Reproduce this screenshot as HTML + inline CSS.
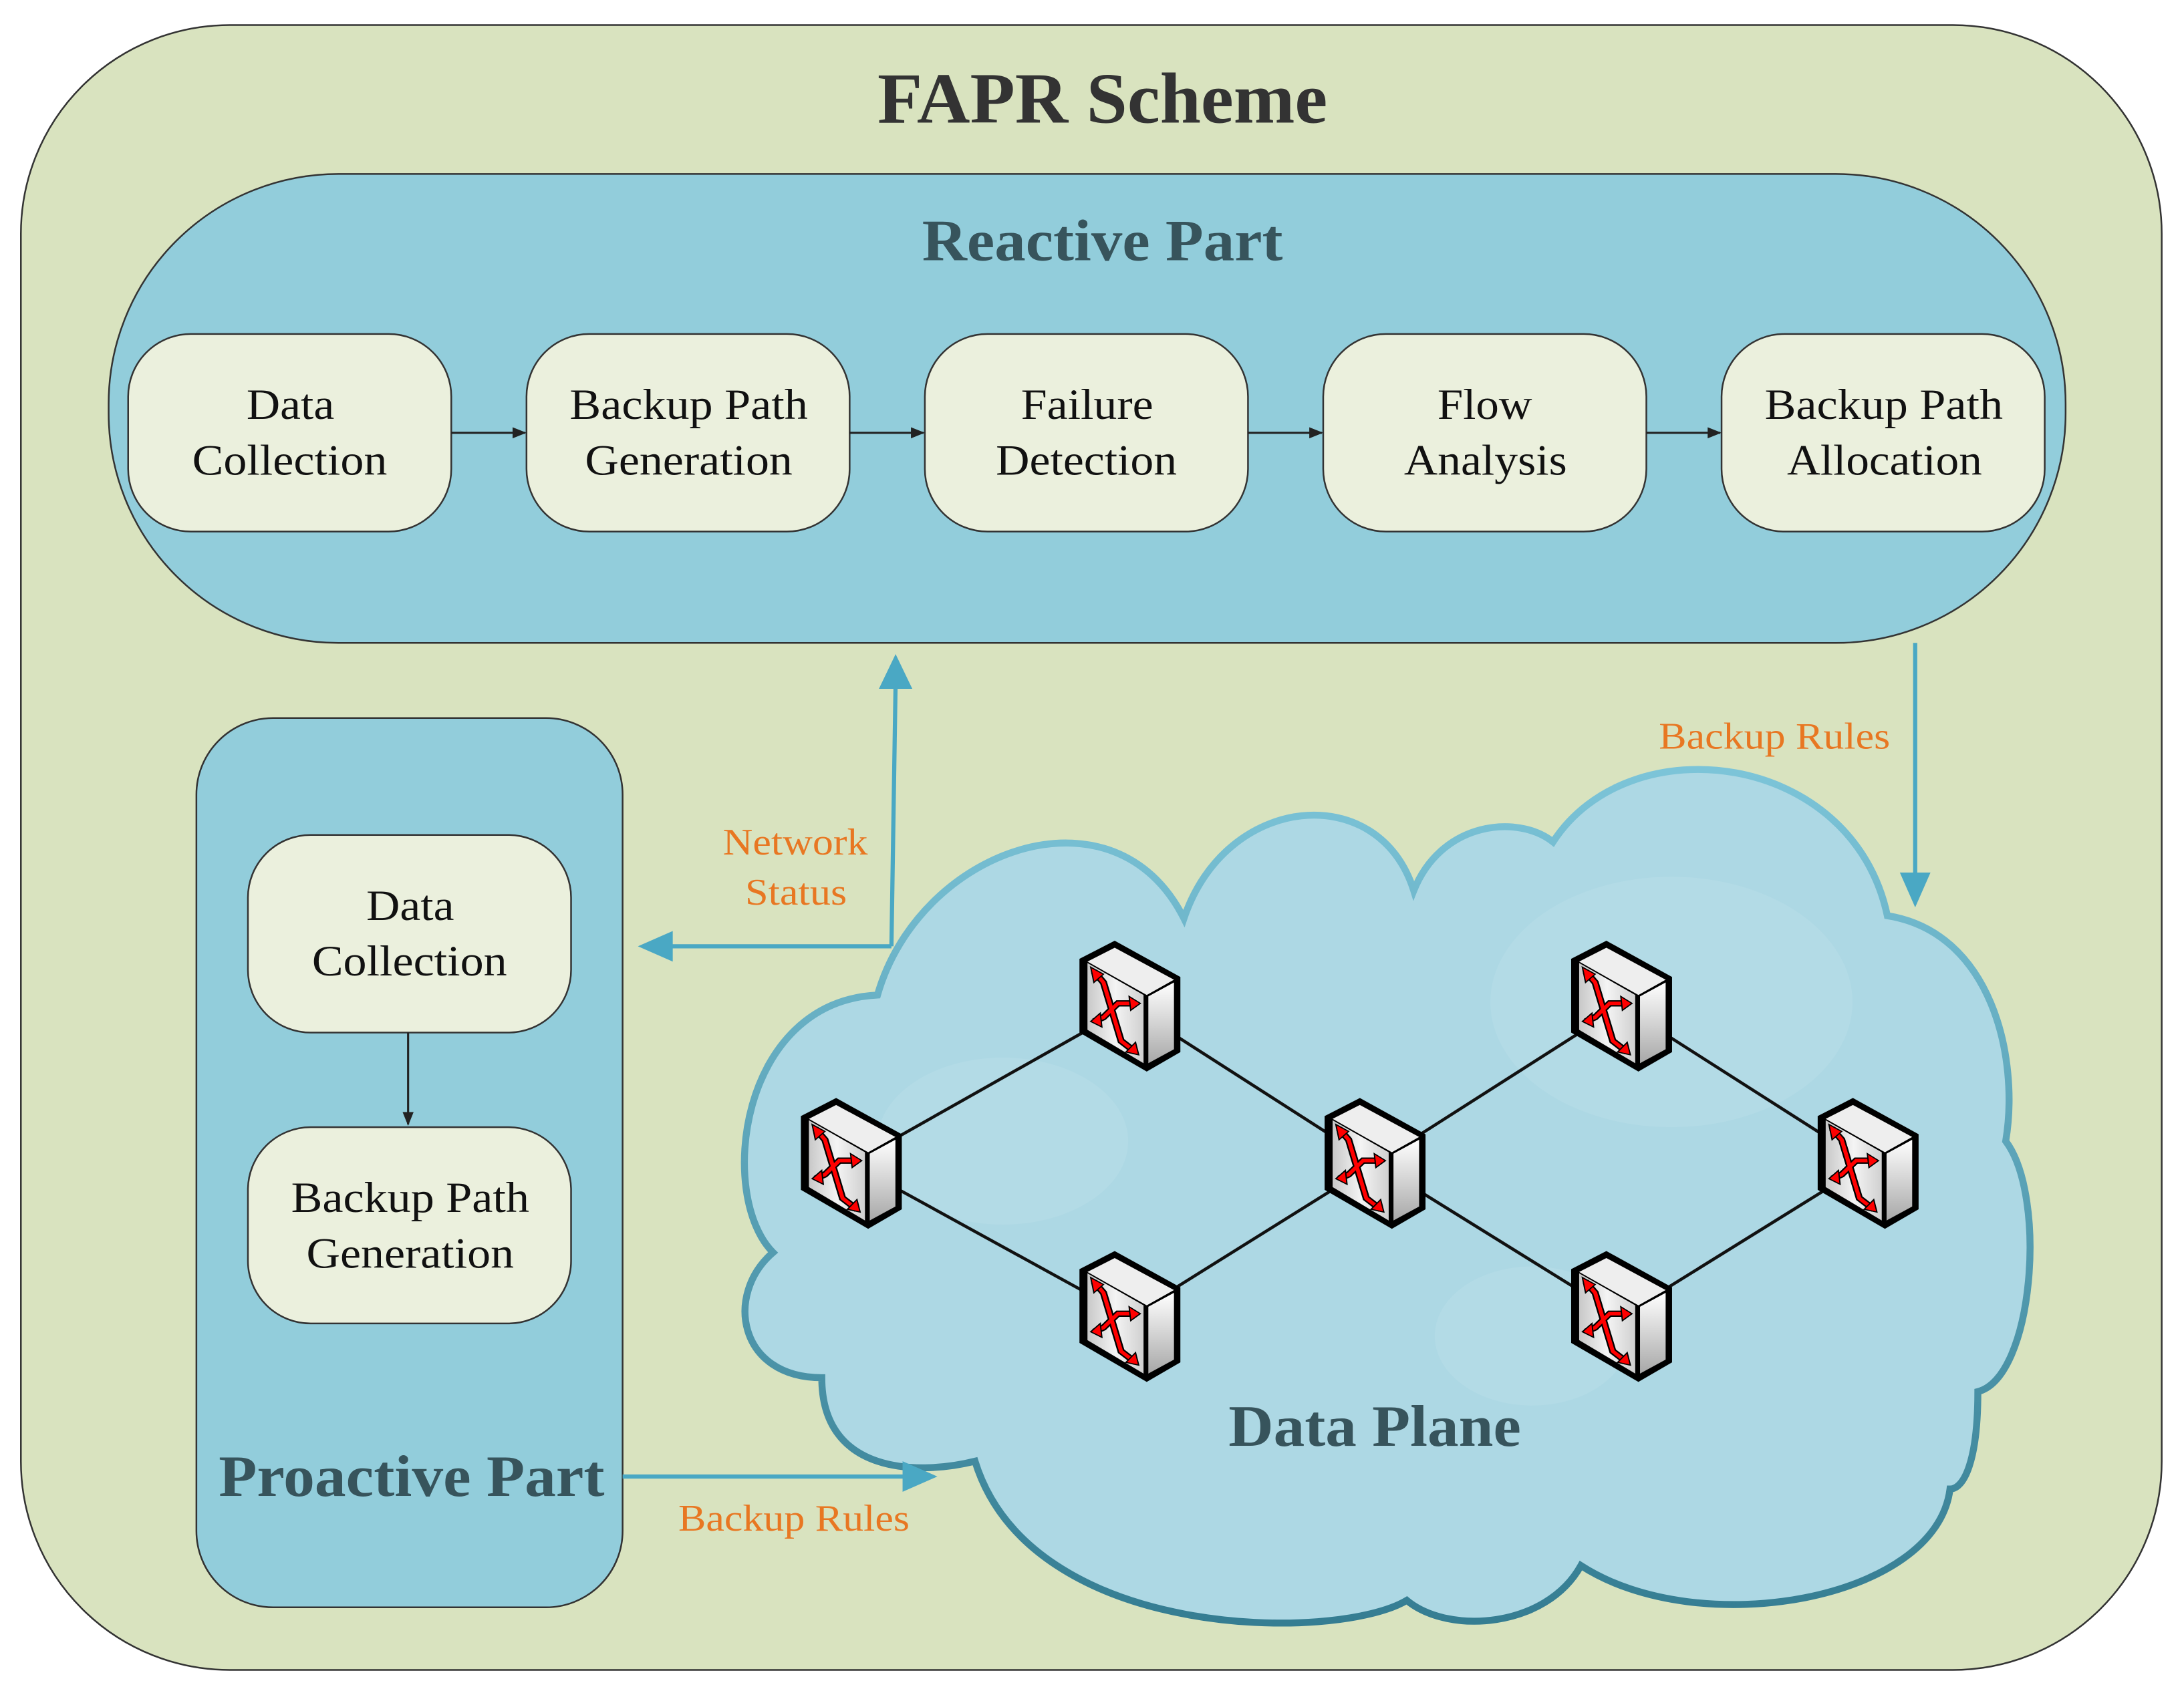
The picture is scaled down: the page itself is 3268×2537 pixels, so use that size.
<!DOCTYPE html>
<html><head><meta charset="utf-8"><style>html,body{margin:0;padding:0;background:#fff}svg{display:block}</style></head>
<body>
<svg width="3268" height="2537" viewBox="0 0 1568 1218" preserveAspectRatio="none" xmlns="http://www.w3.org/2000/svg" font-family="'Liberation Serif', serif">
<defs>
<linearGradient id="cs" x1="0" y1="0" x2="0" y2="1"><stop offset="0" stop-color="#7cc4d8"/><stop offset="1" stop-color="#357d92"/></linearGradient>
<linearGradient id="ff" x1="0" y1="0" x2="1" y2="0"><stop offset="0" stop-color="#c8c8c8"/><stop offset="0.5" stop-color="#f4f4f4"/><stop offset="1" stop-color="#d0d0d0"/></linearGradient>
<linearGradient id="sf" x1="0" y1="0" x2="0" y2="1"><stop offset="0" stop-color="#ffffff"/><stop offset="1" stop-color="#a8a8a8"/></linearGradient>
<marker id="ab" markerWidth="10" markerHeight="10" refX="9" refY="5" orient="auto" markerUnits="userSpaceOnUse"><path d="M0,1 L10,5 L0,9 Z" fill="#222"/></marker>
<g id="sw" transform="scale(1.15,1)">
<polygon points="0,13 22,0 63,26 63,80 42,94 0,66" fill="#000"/>
<polygon points="5,15 22,5 59,28 42,39" fill="#eeeeee"/>
<polygon points="5,16 40,39 40,88 5,64" fill="url(#ff)"/>
<polygon points="43,40 59,30 59,78 43,88" fill="url(#sf)"/>
<g stroke="#000" stroke-width="4.5" fill="none"><path d="M9,22 L15,30 L26,72 L35,80"/><path d="M9,58 L15,55 L24,45 L35,45"/></g>
<g stroke="#f00" stroke-width="2.5" fill="none"><path d="M9,22 L15,30 L26,72 L35,80"/><path d="M9,58 L15,55 L24,45 L35,45"/></g>
<g fill="#f00" stroke="#000" stroke-width="0.8"><polygon points="7,19 15,24 9,30"/><polygon points="37,82 29,80 35,73"/><polygon points="7,58 13,52 14,62"/><polygon points="38,45 31,40 32,50"/></g>
</g>
</defs>
<rect width="1568" height="1218" fill="#fff"/>
<rect x="15" y="18" width="1537" height="1182" rx="150" fill="#d9e3bf" stroke="#333" stroke-width="1.2"/>
<text x="630" y="88" font-size="52" font-weight="bold" fill="#333" textLength="323" lengthAdjust="spacingAndGlyphs">FAPR Scheme</text>

<rect x="78" y="125" width="1405" height="337" rx="165" fill="#92cddb" stroke="#333" stroke-width="1.2"/>
<text x="662" y="187" font-size="42" font-weight="bold" fill="#37545c" textLength="259" lengthAdjust="spacingAndGlyphs">Reactive Part</text>
<g fill="#ebf0dd" stroke="#333" stroke-width="1.2">
<rect x="92" y="240" width="232" height="142" rx="45"/>
<rect x="378" y="240" width="232" height="142" rx="45"/>
<rect x="664" y="240" width="232" height="142" rx="45"/>
<rect x="950" y="240" width="232" height="142" rx="45"/>
<rect x="1236" y="240" width="232" height="142" rx="45"/>
</g>
<g stroke="#222" stroke-width="1.5" marker-end="url(#ab)">
<line x1="324" y1="311" x2="377" y2="311"/><line x1="610" y1="311" x2="663" y2="311"/><line x1="896" y1="311" x2="949" y2="311"/><line x1="1182" y1="311" x2="1235" y2="311"/>
</g>
<g font-size="31" fill="#111" lengthAdjust="spacingAndGlyphs">
<text x="177" y="301" textLength="63" lengthAdjust="spacingAndGlyphs">Data</text><text x="138" y="341" textLength="140" lengthAdjust="spacingAndGlyphs">Collection</text>
<text x="409" y="301" textLength="171" lengthAdjust="spacingAndGlyphs">Backup Path</text><text x="420" y="341" textLength="149" lengthAdjust="spacingAndGlyphs">Generation</text>
<text x="733" y="301" textLength="95" lengthAdjust="spacingAndGlyphs">Failure</text><text x="715" y="341" textLength="130" lengthAdjust="spacingAndGlyphs">Detection</text>
<text x="1032" y="301" textLength="68" lengthAdjust="spacingAndGlyphs">Flow</text><text x="1008" y="341" textLength="117" lengthAdjust="spacingAndGlyphs">Analysis</text>
<text x="1267" y="301" textLength="171" lengthAdjust="spacingAndGlyphs">Backup Path</text><text x="1283" y="341" textLength="140" lengthAdjust="spacingAndGlyphs">Allocation</text>
</g>

<rect x="141" y="516" width="306" height="639" rx="55" fill="#92cddb" stroke="#333" stroke-width="1.2"/>
<g fill="#ebf0dd" stroke="#333" stroke-width="1.2">
<rect x="178" y="600" width="232" height="142" rx="45"/>
<rect x="178" y="810" width="232" height="141" rx="45"/>
</g>
<line x1="293" y1="742" x2="293" y2="808" stroke="#222" stroke-width="1.5" marker-end="url(#ab)"/>
<g font-size="31" fill="#111">
<text x="263" y="661" textLength="63" lengthAdjust="spacingAndGlyphs">Data</text><text x="224" y="701" textLength="140" lengthAdjust="spacingAndGlyphs">Collection</text>
<text x="209" y="871" textLength="171" lengthAdjust="spacingAndGlyphs">Backup Path</text><text x="220" y="911" textLength="149" lengthAdjust="spacingAndGlyphs">Generation</text>
</g>
<text x="157" y="1075" font-size="42" font-weight="bold" fill="#37545c" textLength="277" lengthAdjust="spacingAndGlyphs">Proactive Part</text>

<!-- cloud -->
<path d="M630,715 C660,610 800,560 850,660 C880,570 990,560 1015,640 C1035,590 1090,585 1115,605 C1170,520 1330,540 1355,658 C1430,670 1450,760 1440,820 C1470,860 1460,990 1420,1000 C1420,1050 1410,1070 1400,1070 C1390,1150 1220,1180 1135,1125 C1110,1170 1040,1175 1010,1150 C960,1180 740,1180 700,1050 C660,1060 590,1060 590,990 C530,990 520,930 555,900 C515,860 530,720 630,715 Z" fill="#add8e4" stroke="url(#cs)" stroke-width="5"/>
<g fill="#ffffff" opacity="0.08"><ellipse cx="720" cy="820" rx="90" ry="60"/><ellipse cx="1200" cy="720" rx="130" ry="90"/><ellipse cx="1100" cy="960" rx="70" ry="50"/></g>
<text x="882" y="1039" font-size="42" font-weight="bold" fill="#37545c" textLength="210" lengthAdjust="spacingAndGlyphs">Data Plane</text>

<!-- connectors blue -->
<g stroke="#4aa8c4" stroke-width="3" fill="none">
<polyline points="640,680 643,490"/><line x1="640" y1="680" x2="480" y2="680"/>
<line x1="1375" y1="462" x2="1375" y2="628"/>
<line x1="447" y1="1061" x2="650" y2="1061"/>
</g>
<g fill="#4aa8c4">
<polygon points="631,495 643,470 655,495"/>
<polygon points="483,669 458,680 483,691"/>
<polygon points="1364,627 1375,652 1386,627"/>
<polygon points="648,1050 673,1061 648,1072"/>
</g>
<g font-size="27" fill="#e87722">
<text x="519" y="614" textLength="104" lengthAdjust="spacingAndGlyphs">Network</text><text x="535" y="650" textLength="73" lengthAdjust="spacingAndGlyphs">Status</text>
<text x="1191" y="538" textLength="166" lengthAdjust="spacingAndGlyphs">Backup Rules</text>
<text x="487" y="1100" textLength="166" lengthAdjust="spacingAndGlyphs">Backup Rules</text>
</g>

<!-- network links -->
<g stroke="#111" stroke-width="2.2">
<line x1="611" y1="836" x2="811" y2="723"/><line x1="611" y1="836" x2="811" y2="946"/>
<line x1="811" y1="723" x2="987" y2="836"/><line x1="811" y1="946" x2="987" y2="836"/>
<line x1="987" y1="836" x2="1164" y2="723"/><line x1="987" y1="836" x2="1164" y2="946"/>
<line x1="1164" y1="723" x2="1341" y2="836"/><line x1="1164" y1="946" x2="1341" y2="836"/>
</g>
<use href="#sw" x="775" y="676"/>
<use href="#sw" x="575" y="789"/>
<use href="#sw" x="951" y="789"/>
<use href="#sw" x="775" y="899"/>
<use href="#sw" x="1128" y="676"/>
<use href="#sw" x="1305" y="789"/>
<use href="#sw" x="1128" y="899"/>
</svg>
</body></html>
